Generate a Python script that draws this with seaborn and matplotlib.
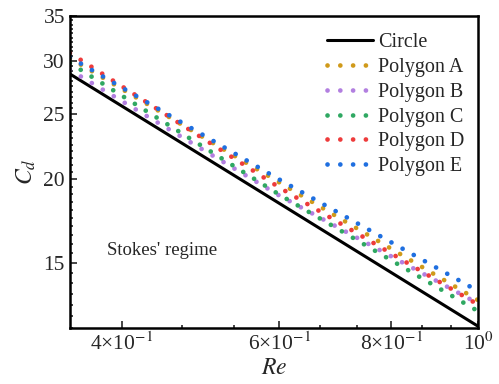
import matplotlib
matplotlib.use("Agg")
import matplotlib.pyplot as plt
import matplotlib.ticker as mticker
import seaborn as sns

# values (log-log axes)
re_vals = [0.35, 0.6, 1.0]
cd_circle = [28.7, 18.4, 12.07]
cd_poly_a = [30.3, 19.77, 13.2]
cd_poly_b = [29.1, 18.9, 13.05]
cd_poly_c = [29.8, 18.96, 12.71]
cd_poly_d = [30.85, 19.43, 13.0]
cd_poly_e = [30.4, 19.97, 13.62]

labels = ["Circle", "Polygon A", "Polygon B", "Polygon C", "Polygon D", "Polygon E"]
colors = ["black", "#D09A1A", "#B27FE0", "#2FA862", "#EE3B3B", "#1F6FE0"]
series = [cd_circle, cd_poly_a, cd_poly_b, cd_poly_c, cd_poly_d, cd_poly_e]

x_major = [0.4, 0.6, 0.8, 1.0]
x_labels = ["4×10$^{-1}$", "6×10$^{-1}$", "8×10$^{-1}$", "10$^{0}$"]
y_major = [15, 20, 25, 30, 35]

sns.set_theme(style="ticks")
plt.rcParams["font.family"] = ["Liberation Serif", "DejaVu Serif"]
plt.rcParams["mathtext.fontset"] = "stix"
plt.rcParams["lines.dash_capstyle"] = "round"

fig = plt.figure(figsize=(4.99, 3.84), dpi=100)
ax = fig.add_axes([0.140, 0.146, 0.818, 0.812])

for lab, col, cd in zip(labels, colors, series):
    if lab == "Circle":
        sns.lineplot(x=re_vals, y=cd, ax=ax, color=col, lw=2.2, label=lab)
    else:
        sns.lineplot(x=re_vals, y=cd, ax=ax, color=col, lw=3.4,
                     linestyle=(0, (0.01, 2.7)), label=lab)

ax.set_xscale("log")
ax.set_yscale("log")
ax.set_xlim(0.35, 1.0)
ax.set_ylim(12, 35)

ax.xaxis.set_major_locator(mticker.FixedLocator(x_major))
ax.xaxis.set_major_formatter(mticker.FixedFormatter(x_labels))
ax.xaxis.set_minor_locator(mticker.FixedLocator([0.4667, 0.5333, 0.6667, 0.7333, 0.8667, 0.9333]))
ax.xaxis.set_minor_formatter(mticker.NullFormatter())

ax.yaxis.set_major_locator(mticker.FixedLocator(y_major))
ax.yaxis.set_major_formatter(mticker.FixedFormatter([str(v) for v in y_major]))
ax.yaxis.set_minor_locator(mticker.FixedLocator([v / 2 for v in range(24, 71)]))
ax.yaxis.set_minor_formatter(mticker.NullFormatter())

ax.tick_params(which="both", direction="in", top=False, right=False, width=1.2, labelsize=15.5)
ax.tick_params(which="major", length=5)
ax.tick_params(which="minor", length=2.5)
for sp in ax.spines.values():
    sp.set_linewidth(1.8)
    sp.set_color("black")

ax.set_xlabel("$Re$", fontsize=17, labelpad=2)
ax.set_ylabel("$C_d$", fontsize=17, labelpad=4)

ax.text(0.092, 0.235, "Stokes' regime", transform=ax.transAxes, fontsize=13.5)

ax.legend(loc="upper right", bbox_to_anchor=(1.0, 0.99), frameon=False, fontsize=14.5,
          handlelength=2.25, handletextpad=0.25, labelspacing=0.28, borderaxespad=0.3)

fig.savefig("out.png", dpi=100)
